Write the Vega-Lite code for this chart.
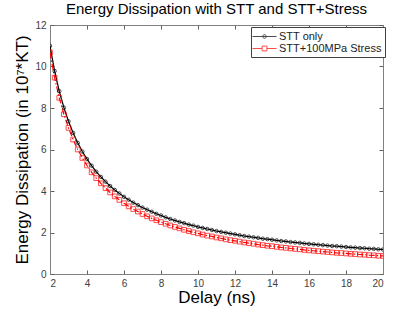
{
  "$schema": "https://vega.github.io/schema/vega-lite/v6.json",
  "autosize": "none",
  "width": 333,
  "height": 249,
  "padding": {"left": 50, "top": 25, "right": 32, "bottom": 38},
  "background": "white",
  "title": {"text": "Energy Dissipation with STT and STT+Stress", "fontSize": 15, "font": "Liberation Sans", "fontWeight": "normal", "color": "black", "offset": 3},
  "config": {
    "view": {"stroke": null},
    "font": "Liberation Sans",
    "axis": {"grid": false, "labelFontSize": 10, "labelColor": "#404040", "labelFont": "Liberation Sans", "domainColor": "#808080", "tickColor": "#606060", "tickSize": -4, "titleFontSize": 17, "titleFontWeight": "normal", "titleColor": "black", "titleFont": "Liberation Sans"},
    "legend": {"orient": "none", "legendX": 201, "legendY": 2, "strokeColor": "#404040", "fillColor": "white", "padding": 3, "labelFontSize": 11, "labelColor": "#222222", "labelFont": "Liberation Sans", "labelOffset": 8, "symbolOffset": 4, "rowPadding": 0, "symbolSize": 144, "symbolStrokeWidth": 1}
  },
  "data": {"values": [
    {"d": 2.0, "STT only": 10.99, "STT+100MPa Stress": 10.67},
    {"d": 2.25, "STT only": 9.78, "STT+100MPa Stress": 9.46},
    {"d": 2.5, "STT only": 8.81, "STT+100MPa Stress": 8.49},
    {"d": 2.75, "STT only": 8.02, "STT+100MPa Stress": 7.70},
    {"d": 3.0, "STT only": 7.36, "STT+100MPa Stress": 7.04},
    {"d": 3.25, "STT only": 6.80, "STT+100MPa Stress": 6.48},
    {"d": 3.5, "STT only": 6.32, "STT+100MPa Stress": 6.00},
    {"d": 3.75, "STT only": 5.90, "STT+100MPa Stress": 5.59},
    {"d": 4.0, "STT only": 5.54, "STT+100MPa Stress": 5.23},
    {"d": 4.25, "STT only": 5.22, "STT+100MPa Stress": 4.90},
    {"d": 4.5, "STT only": 4.93, "STT+100MPa Stress": 4.62},
    {"d": 4.75, "STT only": 4.68, "STT+100MPa Stress": 4.37},
    {"d": 5.0, "STT only": 4.45, "STT+100MPa Stress": 4.14},
    {"d": 5.25, "STT only": 4.24, "STT+100MPa Stress": 3.93},
    {"d": 5.5, "STT only": 4.05, "STT+100MPa Stress": 3.74},
    {"d": 5.75, "STT only": 3.88, "STT+100MPa Stress": 3.57},
    {"d": 6.0, "STT only": 3.72, "STT+100MPa Stress": 3.41},
    {"d": 6.25, "STT only": 3.58, "STT+100MPa Stress": 3.26},
    {"d": 6.5, "STT only": 3.44, "STT+100MPa Stress": 3.13},
    {"d": 6.75, "STT only": 3.32, "STT+100MPa Stress": 3.01},
    {"d": 7.0, "STT only": 3.20, "STT+100MPa Stress": 2.89},
    {"d": 7.25, "STT only": 3.10, "STT+100MPa Stress": 2.78},
    {"d": 7.5, "STT only": 3.00, "STT+100MPa Stress": 2.68},
    {"d": 7.75, "STT only": 2.90, "STT+100MPa Stress": 2.59},
    {"d": 8.0, "STT only": 2.82, "STT+100MPa Stress": 2.50},
    {"d": 8.25, "STT only": 2.73, "STT+100MPa Stress": 2.42},
    {"d": 8.5, "STT only": 2.65, "STT+100MPa Stress": 2.34},
    {"d": 8.75, "STT only": 2.58, "STT+100MPa Stress": 2.27},
    {"d": 9.0, "STT only": 2.51, "STT+100MPa Stress": 2.20},
    {"d": 9.25, "STT only": 2.45, "STT+100MPa Stress": 2.13},
    {"d": 9.5, "STT only": 2.38, "STT+100MPa Stress": 2.07},
    {"d": 9.75, "STT only": 2.33, "STT+100MPa Stress": 2.01},
    {"d": 10.0, "STT only": 2.27, "STT+100MPa Stress": 1.96},
    {"d": 10.25, "STT only": 2.22, "STT+100MPa Stress": 1.90},
    {"d": 10.5, "STT only": 2.17, "STT+100MPa Stress": 1.85},
    {"d": 10.75, "STT only": 2.12, "STT+100MPa Stress": 1.81},
    {"d": 11.0, "STT only": 2.07, "STT+100MPa Stress": 1.76},
    {"d": 11.25, "STT only": 2.03, "STT+100MPa Stress": 1.72},
    {"d": 11.5, "STT only": 1.99, "STT+100MPa Stress": 1.67},
    {"d": 11.75, "STT only": 1.95, "STT+100MPa Stress": 1.63},
    {"d": 12.0, "STT only": 1.91, "STT+100MPa Stress": 1.60},
    {"d": 12.25, "STT only": 1.87, "STT+100MPa Stress": 1.56},
    {"d": 12.5, "STT only": 1.83, "STT+100MPa Stress": 1.52},
    {"d": 12.75, "STT only": 1.80, "STT+100MPa Stress": 1.49},
    {"d": 13.0, "STT only": 1.77, "STT+100MPa Stress": 1.46},
    {"d": 13.25, "STT only": 1.74, "STT+100MPa Stress": 1.42},
    {"d": 13.5, "STT only": 1.70, "STT+100MPa Stress": 1.39},
    {"d": 13.75, "STT only": 1.68, "STT+100MPa Stress": 1.36},
    {"d": 14.0, "STT only": 1.65, "STT+100MPa Stress": 1.34},
    {"d": 14.25, "STT only": 1.62, "STT+100MPa Stress": 1.31},
    {"d": 14.5, "STT only": 1.59, "STT+100MPa Stress": 1.28},
    {"d": 14.75, "STT only": 1.57, "STT+100MPa Stress": 1.26},
    {"d": 15.0, "STT only": 1.54, "STT+100MPa Stress": 1.23},
    {"d": 15.25, "STT only": 1.52, "STT+100MPa Stress": 1.21},
    {"d": 15.5, "STT only": 1.50, "STT+100MPa Stress": 1.19},
    {"d": 15.75, "STT only": 1.47, "STT+100MPa Stress": 1.16},
    {"d": 16.0, "STT only": 1.45, "STT+100MPa Stress": 1.14},
    {"d": 16.25, "STT only": 1.43, "STT+100MPa Stress": 1.12},
    {"d": 16.5, "STT only": 1.41, "STT+100MPa Stress": 1.10},
    {"d": 16.75, "STT only": 1.39, "STT+100MPa Stress": 1.08},
    {"d": 17.0, "STT only": 1.37, "STT+100MPa Stress": 1.06},
    {"d": 17.25, "STT only": 1.35, "STT+100MPa Stress": 1.04},
    {"d": 17.5, "STT only": 1.34, "STT+100MPa Stress": 1.02},
    {"d": 17.75, "STT only": 1.32, "STT+100MPa Stress": 1.01},
    {"d": 18.0, "STT only": 1.30, "STT+100MPa Stress": 0.99},
    {"d": 18.25, "STT only": 1.28, "STT+100MPa Stress": 0.97},
    {"d": 18.5, "STT only": 1.27, "STT+100MPa Stress": 0.96},
    {"d": 18.75, "STT only": 1.25, "STT+100MPa Stress": 0.94},
    {"d": 19.0, "STT only": 1.24, "STT+100MPa Stress": 0.93},
    {"d": 19.25, "STT only": 1.22, "STT+100MPa Stress": 0.91},
    {"d": 19.5, "STT only": 1.21, "STT+100MPa Stress": 0.90},
    {"d": 19.75, "STT only": 1.19, "STT+100MPa Stress": 0.88},
    {"d": 20.0, "STT only": 1.18, "STT+100MPa Stress": 0.87}
  ]},
  "transform": [{"fold": ["STT only", "STT+100MPa Stress"], "as": ["s", "e"]}],
  "resolve": {"axis": {"x": "independent", "y": "independent"}, "scale": {"shape": "independent"}, "legend": {"color": "independent", "shape": "independent"}},
  "layer": [
    {
      "mark": {"type": "line", "strokeWidth": 1.2, "clip": true},
      "encoding": {
        "x": {"field": "d", "type": "quantitative", "scale": {"domain": [2, 20], "nice": false}, "axis": {"orient": "bottom", "values": [2,4,6,8,10,12,14,16,18,20], "title": "Delay (ns)", "labelPadding": 8, "titlePadding": 1}},
        "y": {"field": "e", "type": "quantitative", "scale": {"domain": [0, 12], "nice": false}, "axis": {"orient": "left", "values": [0,2,4,6,8,10,12], "title": "Energy Dissipation (in 10⁷*KT)", "labelPadding": 8, "titlePadding": 3}},
        "color": {"field": "s", "type": "nominal", "scale": {"domain": ["STT only", "STT+100MPa Stress"], "range": ["#000000", "#ff0000"]}, "legend": null},
        "strokeDash": {"field": "s", "type": "nominal", "scale": {"domain": ["STT only", "STT+100MPa Stress"], "range": [[1, 0], [6, 2, 1.5, 2]]}, "legend": null}
      }
    },
    {
      "mark": {"type": "point", "filled": false, "strokeWidth": 1, "clip": true},
      "encoding": {
        "x": {"field": "d", "type": "quantitative", "axis": {"orient": "top", "values": [2,4,6,8,10,12,14,16,18,20], "labels": false, "title": null}},
        "y": {"field": "e", "type": "quantitative", "axis": {"orient": "right", "values": [0,2,4,6,8,10,12], "labels": false, "title": null}},
        "color": {"field": "s", "type": "nominal", "legend": null},
        "shape": {"field": "s", "type": "nominal", "scale": {"domain": ["STT only", "STT+100MPa Stress"], "range": ["circle", "square"]}, "legend": null},
        "size": {"field": "s", "type": "nominal", "scale": {"domain": ["STT only", "STT+100MPa Stress"], "range": [12, 22]}, "legend": null}
      }
    },
    {
      "transform": [{"filter": "false"}],
      "mark": {"type": "point", "filled": false, "strokeWidth": 1, "size": 144},
      "encoding": {
        "x": {"field": "d", "type": "quantitative", "axis": null},
        "y": {"field": "e", "type": "quantitative", "axis": null},
        "color": {"field": "s", "type": "nominal", "legend": {"title": null}},
        "shape": {"field": "s", "type": "nominal", "scale": {"domain": ["STT only", "STT+100MPa Stress"], "range": ["M-2,0H2M-0.3,0A0.3,0.3,0,1,1,0.3,0A0.3,0.3,0,1,1,-0.3,0", "M-2,0H-0.4M0.4,0H2M-0.4,-0.4H0.4V0.4H-0.4Z"]}, "legend": {"title": null}}
      }
    }
  ]
}
